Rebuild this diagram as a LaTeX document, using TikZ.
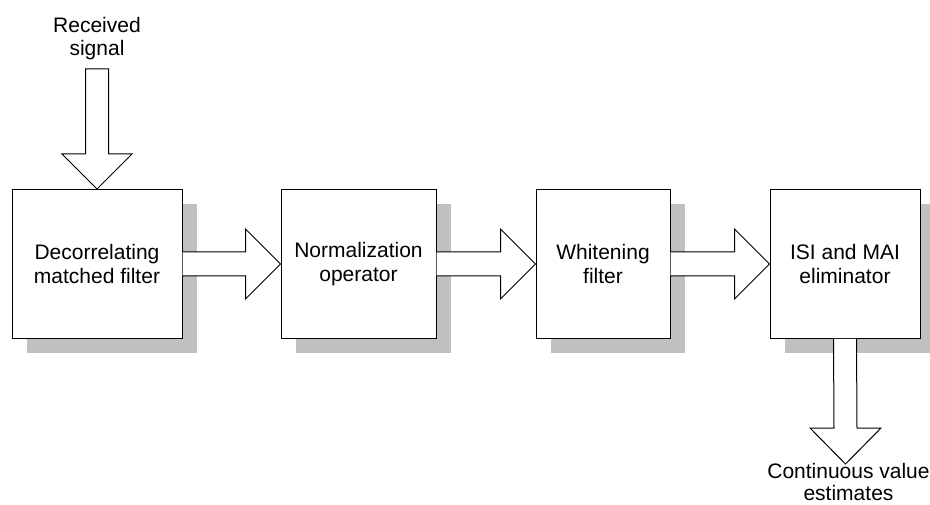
\documentclass[tikz,border=0pt]{standalone}
\usepackage{fontspec}
\setmainfont{Liberation Sans}
\usetikzlibrary{calc,shadows}
\definecolor{shadowgray}{RGB}{192,192,192}
\tikzset{
  blockbox/.style={draw=black, fill=white, line width=1pt, minimum height=149pt, inner sep=0pt, align=center,
    font=\fontsize{21}{24}\selectfont,
    general shadow={fill=shadowgray, shadow xshift=15pt, shadow yshift=-15pt}},
  fatarrow/.style={draw=black, fill=white, line width=1pt, line join=miter},
  lbl/.style={align=center, inner sep=0pt}
}
\begin{document}
\begin{tikzpicture}[x=1pt,y=-1pt]
\useasboundingbox (0,0) rectangle (930,505);
% boxes
\node[blockbox, minimum width=170pt] (b1) at (97,264) {Decorrelating\\matched filter};
\node[blockbox, minimum width=155pt] (b2) at (358.5,264) {Normalization\\operator};
\node[blockbox, minimum width=134pt] (b3) at (603,264) {Whitening\\filter};
\node[blockbox, minimum width=150pt] (b4) at (845,264) {ISI and MAI\\eliminator};
% horizontal block arrows
\foreach \a/\b in {b1/b2, b2/b3, b3/b4}{
  \draw[fatarrow] ($(\a.east)+(0,-12)$) -- ($(\b.west)+(-35,-12)$) -- ($(\b.west)+(-35,-35)$)
    -- (\b.west) -- ($(\b.west)+(-35,35)$) -- ($(\b.west)+(-35,12)$) -- ($(\a.east)+(0,12)$);
}
% input arrow
\coordinate (intail) at (97,69);
\draw[fatarrow] ($(intail)+(-11.5,0)$) -- ($(b1.north)+(-11.5,-35)$) -- ($(b1.north)+(-35,-35)$)
  -- (b1.north) -- ($(b1.north)+(35,-35)$) -- ($(b1.north)+(11.5,-35)$) -- ($(intail)+(11.5,0)$) -- cycle;
\node[lbl, font=\fontsize{21}{23}\selectfont] (inlbl) at (97,38.5) {Received\\signal};
% output arrow
\coordinate (outtip) at (845.5,464);
\draw[fatarrow] ($(b4.south)+(-11.5,0)$) -- ($(outtip)+(-11.5,-36)$) -- ($(outtip)+(-35.5,-36)$)
  -- (outtip) -- ($(outtip)+(35.5,-36)$) -- ($(outtip)+(11.5,-36)$) -- ($(b4.south)+(11.5,0)$);
\node[lbl, font=\fontsize{21}{22}\selectfont] (outlbl) at (848.5,482) {Continuous value\\estimates};
\end{tikzpicture}
\end{document}
